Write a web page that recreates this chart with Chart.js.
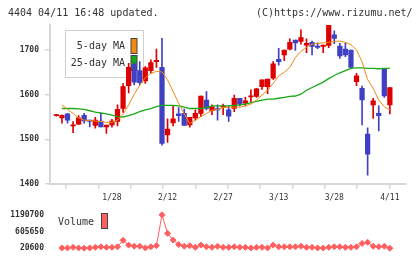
<!DOCTYPE html>
<html><head><meta charset="utf-8">
<script src="https://cdn.jsdelivr.net/npm/chart.js@4.4.0/dist/chart.umd.min.js"></script>
<style>
html,body{margin:0;padding:0;background:#fff;}
#wrap{position:relative;width:420px;height:259px;overflow:hidden;font-family:"DejaVu Sans Mono",monospace;color:#333;}
canvas{position:absolute;left:0;}
.hdr{position:absolute;top:7px;font-size:10px;line-height:12px;white-space:nowrap;}
</style></head><body>
<div id="wrap">
<canvas id="main" width="420" height="204" style="top:0"></canvas>
<canvas id="vol" width="420" height="55" style="top:204px"></canvas>
<div class="hdr" style="left:8px">4404 04/11 16:48 updated.</div>
<div class="hdr" style="left:256px">(C)https://www.rizumu.net/</div>
</div>
<script>
const categories = ['1/11','1/15','1/16','1/17','1/18','1/21','1/22','1/23','1/24','1/25',
  '1/28','1/29','1/30','1/31','2/1','2/4','2/5','2/6','2/7','2/8',
  '2/12','2/13','2/14','2/15','2/18','2/19','2/20','2/21','2/22','2/25',
  '2/27','2/28','3/1','3/4','3/5','3/6','3/7','3/8','3/11','3/12',
  '3/13','3/14','3/15','3/18','3/19','3/20','3/22','3/25','3/26','3/27',
  '3/28','3/29','4/1','4/2','4/3','4/4','4/5','4/8','4/9','4/10','4/11'];
const opens  = [1553,1548,1557,1530,1534,1554,1543,1531,1541,1528,1532,1540,1569,1620,1668,1654,1631,1654,1674,1661,
  1510,1537,1557,1558,1532,1548,1558,1588,1564,1569,1572,1566,1569,1592,1581,1595,1596,1618,1618,1637,
  1679,1689,1702,1722,1719,1711,1717,1709,1708,1710,1734,1709,1702,1700,1629,1614,1512,1577,1558,1659,1577];
const highs  = [1556,1555,1558,1540,1553,1558,1543,1549,1558,1532,1545,1577,1625,1670,1672,1674,1663,1678,1702,1726,
  1546,1575,1571,1568,1549,1566,1597,1607,1577,1577,1579,1575,1599,1592,1594,1611,1614,1633,1635,1674,
  1704,1700,1725,1722,1745,1725,1720,1716,1711,1756,1743,1715,1716,1700,1648,1619,1526,1592,1575,1659,1616];
const lows   = [1552,1536,1536,1515,1533,1536,1528,1525,1528,1513,1527,1530,1560,1604,1622,1622,1625,1648,1661,1487,
  1493,1530,1540,1531,1527,1543,1551,1566,1555,1543,1555,1540,1562,1575,1575,1584,1594,1612,1602,1634,
  1666,1676,1700,1699,1713,1694,1689,1703,1694,1705,1714,1681,1685,1659,1620,1532,1420,1547,1519,1594,1557];
const closes = [1555,1554,1543,1531,1548,1541,1540,1543,1528,1532,1541,1567,1618,1661,1628,1627,1660,1672,1677,1491,
  1523,1546,1553,1531,1549,1558,1597,1569,1573,1566,1575,1552,1592,1579,1586,1597,1613,1633,1635,1669,
  1674,1700,1717,1716,1728,1715,1708,1706,1711,1756,1726,1687,1689,1661,1642,1588,1467,1586,1553,1597,1616];
const ma5  = [null,1577,1567,1558,1548,1543,1542,1541,1540,1538,1538,1543,1556,1577,1601,1621,1638,1648,1652,1651,
  1633,1607,1581,1557,1535,1543,1551,1558,1565,1567,1571,1572,1572,1572,1575,1579,1588,1599,1610,1625,
  1642,1650,1661,1683,1697,1706,1713,1715,1716,1717,1719,1720,1717,1712,1700,1674,1634,1614,1588,1573,1566];
const ma25 = [null,1569,1569,1569,1568,1567,1564,1561,1559,1557,1554,1551,1550,1553,1557,1562,1566,1569,1573,1576,
  1576,1576,1575,1572,1569,1569,1569,1571,1575,1575,1575,1575,1576,1577,1579,1582,1585,1588,1590,1590,
  1592,1594,1596,1597,1601,1610,1616,1622,1628,1636,1643,1649,1654,1659,1660,1660,1659,1659,1658,1659,1659];
const volume = [null,30400,30400,50100,30400,22000,30400,50100,69800,50100,50100,69800,295900,128800,89400,89400,30400,69800,109100,1190700,
  541700,305800,148400,89400,109100,50100,128800,69800,50100,89400,50100,50100,69800,50100,50100,30400,50100,50100,30400,128800,
  69800,69800,69800,69800,89400,50100,50100,30400,24000,50100,69800,69800,50100,50100,69800,187800,227100,89400,69800,89400,20600];
const labelDates = ['1/28','2/12','2/27','3/13','3/28','4/11'];
const priceTicks = [1400,1500,1600,1700];
const volumeTicks = [20600,605650,1190700];

const FONT = '"DejaVu Sans Mono", monospace';
Chart.defaults.font.family = FONT;
const RED = '#dd0000', BLUE = '#4040c4', ORANGE = '#f08a10', GREEN = '#18a818', VOL = '#ff5f5f', AXIS = '#d6d6d6', TXT = '#333';
const XMIN = -1.15, XMAX = 62.85;

const colors = closes.map((c, i) => c >= opens[i] ? RED : BLUE);
const bodies = opens.map((o, i) => ({x: i, y: [o, closes[i]]}));
const wicks = lows.map((l, i) => ({x: i, y: [l, highs[i]]}));
const labelIdx = labelDates.map(d => categories.indexOf(d));

const maLegend = {
  id: 'maLegend',
  beforeDatasetsDraw(chart) {
    const c = chart.ctx;
    c.save();
    c.fillStyle = '#fff';
    c.fillRect(65.5, 30.5, 78, 47);
    c.strokeStyle = '#cfcfcf'; c.lineWidth = 1;
    c.strokeRect(65.5, 30.5, 78, 47);
    c.font = '10px ' + FONT; c.fillStyle = TXT; c.textAlign = 'right'; c.textBaseline = 'middle';
    c.fillText('5-day MA', 125, 46);
    c.fillText('25-day MA', 125, 63);
    c.strokeStyle = '#444';
    c.fillStyle = ORANGE; c.fillRect(131, 38.5, 6, 15); c.strokeRect(131, 38.5, 6, 15);
    c.fillStyle = GREEN; c.fillRect(131, 55.5, 6, 15); c.strokeRect(131, 55.5, 6, 15);
    c.restore();
  }
};
const volLegend = {
  id: 'volLegend',
  afterDraw(chart) {
    const c = chart.ctx;
    c.save();
    c.font = '10px ' + FONT; c.fillStyle = TXT; c.textAlign = 'left'; c.textBaseline = 'middle';
    c.fillText('Volume', 58, 18);
    c.fillStyle = VOL; c.strokeStyle = '#444'; c.lineWidth = 1;
    c.fillRect(101.5, 9.5, 6, 15); c.strokeRect(101.5, 9.5, 6, 15);
    c.restore();
  }
};

new Chart(document.getElementById('main'), {
  type: 'bar',
  data: { datasets: [
    {type: 'line', data: ma5.map((v, i) => ({x: i, y: v})), borderColor: ORANGE, borderWidth: 1, pointRadius: 0, tension: 0, fill: false, order: 0},
    {type: 'line', data: ma25.map((v, i) => ({x: i, y: v})), borderColor: GREEN, borderWidth: 1.3, pointRadius: 0, tension: 0, fill: false, order: 0},
    {type: 'bar', data: bodies, backgroundColor: colors, barThickness: 4.6, grouped: false, minBarLength: 1, borderWidth: 0, order: 1},
    {type: 'bar', data: wicks, backgroundColor: colors, barThickness: 1, grouped: false, borderWidth: 0, order: 2}
  ]},
  options: {
    responsive: false, animation: false,
    layout: {padding: {left: 0, right: 14.3, top: 25, bottom: 0}},
    plugins: {legend: {display: false}, tooltip: {enabled: false}},
    scales: {
      x: {type: 'linear', position: 'bottom', weight: 0, min: XMIN, max: XMAX, offset: false,
        afterBuildTicks: s => { s.ticks = Array.from({length: 12}, (_, k) => ({value: XMIN + k * (XMAX - XMIN) / 11})); },
        ticks: {display: false},
        grid: {display: true, drawOnChartArea: false, drawTicks: true, tickLength: 5, color: AXIS, lineWidth: 1.5},
        border: {display: true, color: AXIS, width: 2},
        afterFit: s => { s.height = 0; }},
      xl: {type: 'linear', position: 'bottom', weight: 1, min: XMIN, max: XMAX, offset: false,
        afterBuildTicks: s => { s.ticks = labelIdx.map(v => ({value: v})); },
        ticks: {callback: v => categories[Math.round(v)], font: {size: 8}, color: TXT, padding: 9, maxRotation: 0, autoSkip: false},
        grid: {display: false, drawTicks: false}, border: {display: false},
        afterFit: s => { s.height = 20; }},
      y: {type: 'linear', position: 'left', min: 1400, max: 1756,
        afterBuildTicks: s => { s.ticks = priceTicks.map(v => ({value: v})); },
        ticks: {callback: v => String(v), font: {size: 8, weight: 'bold'}, color: TXT, padding: 6},
        grid: {display: true, drawOnChartArea: false, drawTicks: true, tickLength: 5, color: AXIS, lineWidth: 1.5},
        border: {display: true, color: AXIS, width: 2},
        afterFit: s => { s.width = 50; }}
    }
  },
  plugins: [maLegend]
});

new Chart(document.getElementById('vol'), {
  type: 'line',
  data: { datasets: [
    {data: volume.map((v, i) => ({x: i, y: v})), borderColor: VOL, backgroundColor: VOL, borderWidth: 1,
     pointStyle: 'rectRot', pointRadius: 3, pointBorderWidth: 1, tension: 0, fill: false, clip: false}
  ]},
  options: {
    responsive: false, animation: false,
    layout: {padding: {left: 0, right: 14.3, top: 5, bottom: 10.7}},
    plugins: {legend: {display: false}, tooltip: {enabled: false}},
    scales: {
      x: {type: 'linear', min: XMIN, max: XMAX, display: false},
      y: {type: 'linear', min: 20600, max: 1190700,
        afterBuildTicks: s => { s.ticks = volumeTicks.map(v => ({value: v})); },
        ticks: {callback: v => String(v), font: {size: 8, weight: 'bold'}, color: TXT, padding: 6},
        grid: {display: false, drawTicks: false}, border: {display: false},
        afterFit: s => { s.width = 50; }}
    }
  },
  plugins: [volLegend]
});
</script>
</body></html>
